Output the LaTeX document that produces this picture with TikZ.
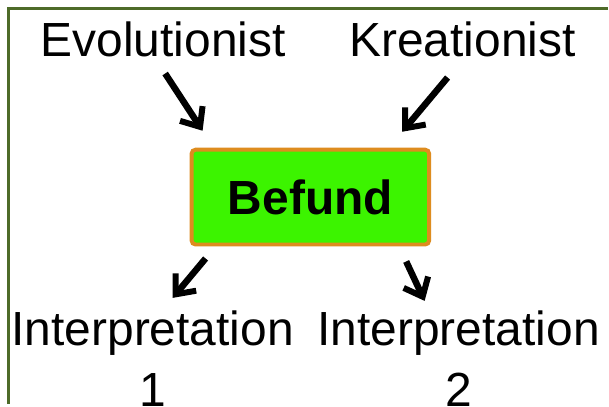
\documentclass[tikz,border=0pt]{standalone}
\usepackage{fontspec}
\setmainfont{Liberation Sans}
\usetikzlibrary{arrows.meta,calc}
\definecolor{frameolive}{HTML}{4E6B29}
\definecolor{boxorange}{HTML}{DE8C1E}
\definecolor{boxgreen}{HTML}{3CF400}
\begin{document}
\begin{tikzpicture}[x=1pt,y=-1pt,
  word/.style={font=\fontsize{48}{61}\selectfont, inner sep=0pt, text=black},
  findbox/.style={draw=boxorange, line width=4pt, fill=boxgreen, rounded corners=4pt,
    minimum width=238pt, minimum height=95pt, inner sep=0pt,
    font=\fontsize{48}{58}\selectfont\bfseries},
  arr/.style={line width=6.5pt, black,
    -{Straight Barb[length=16pt,width=27pt,line width=6pt]}}]
  % canvas and the olive frame along the top and left edges
  \fill[white] (0,0) rectangle (609,405);
  \draw[frameolive, line width=2.5pt] (609,8.5) -- (8.5,8.5) -- (8.5,405);

  % the two viewpoints
  \node[word, anchor=base] (evo) at (163.5,57) {Evolutionist};
  \node[word, anchor=base] (kre) at (463.5,57) {Kreationist};

  % the finding in the middle
  \node[findbox] (befund) at (311,197.5) {Befund};

  % the two interpretations
  \node[word, anchor=north, align=center] (int1) at (153,311.5) {Interpretation\\1};
  \node[word, anchor=north, align=center] (int2) at (459.5,311.5) {Interpretation\\2};

  % arrows
  \draw[arr] ($(evo.south)+(2,16)$) -- ($(befund.north west)+(13,-17)$);
  \draw[arr] ($(kre.south)+(-15,20)$) -- ($(befund.north east)+(-29,-16)$);
  \draw[arr] ($(befund.south west)+(16,12)$) -- ($(int1.north)+(20,-13)$);
  \draw[arr] ($(befund.south east)+(-25,15)$) -- ($(int2.north)+(-34,-10)$);
\end{tikzpicture}
\end{document}
